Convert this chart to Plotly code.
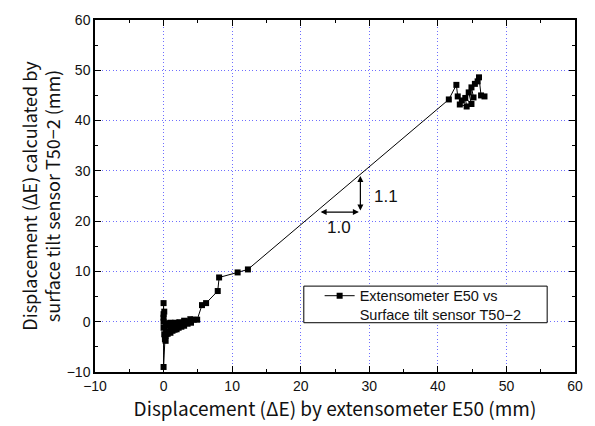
import plotly.graph_objects as go

# Displacement by extensometer E50 (mm)
ext_e50 = [0, 0, 0, 0.1, 0, 0, 0.2, 0, 0.3, 0.1, 0.2, 0.5, 0.3, 0.6, 0.4, 0.8,
           0.6, 1.0, 0.8, 1.2, 1.0, 1.4, 1.3, 1.7, 1.6, 2.0, 1.9, 2.3, 2.2,
           2.6, 2.6, 3.0, 3.0, 3.4, 3.5, 3.9, 4.0, 4.4, 4.9, 5.6, 6.2,
           7.9, 8.1, 10.8, 12.3,
           41.6, 42.7, 42.9, 43.5, 43.2, 44.2, 44.0, 44.9, 44.5, 45.2, 44.9,
           45.4, 45.8, 46.0, 46.3, 46.8]
# Displacement calculated by surface tilt sensor T50-2 (mm)
tilt_t50 = [0, -1.2, 1.5, -2.5, 3.7, -9.0, -3.5, 0.8, -3.8, 2.0, -3.0, -0.5,
            -2.8, -0.3, -2.5, -0.8, -2.4, -0.2, -2.0, -0.6, -2.2, -0.4, -1.8,
            -0.2, -1.6, -0.6, -1.5, -0.1, -1.2, -0.3, -1.0, 0.2, -0.8, 0.1,
            -0.4, 0.5, -0.2, 0.4, 0.4, 3.3, 3.7,
            6.1, 8.8, 9.8, 10.4,
            44.2, 47.1, 44.8, 44.0, 43.2, 42.8, 44.5, 43.3, 45.6, 44.6, 46.6,
            47.3, 47.8, 48.6, 45.0, 44.8]

# Slope triangle (run 1.0, rise 1.1)
tri_corner = (28.7, 21.8)
tri_left_x = 22.9
tri_top_y = 29.0
rise_label = ("1.1", 32.4, 25.0)
run_label = ("1.0", 25.6, 18.8)

series_name = "Extensometer E50 vs<br>Surface tilt sensor T50\u22122"

title_font = dict(family="Noto Sans CJK JP", size=18, color="#111")
tick_font = dict(family="Liberation Sans", size=14, color="#111")
grid_col = "#6e6eff"

fig = go.Figure()
fig.add_trace(go.Scatter(
    x=ext_e50, y=tilt_t50, mode="lines+markers", name=series_name,
    line=dict(color="black", width=1),
    marker=dict(symbol="square", size=6, color="black"),
))

axis_common = dict(
    range=[-10, 60], dtick=10, tick0=0,
    showline=True, linecolor="black", linewidth=1.5, mirror="ticks",
    ticks="inside", ticklen=6, tickwidth=1, tickcolor="black",
    minor=dict(ticks="inside", ticklen=3, dtick=5, tickcolor="black", showgrid=False),
    showgrid=True, gridcolor=grid_col, griddash="1px,2.5px", gridwidth=1,
    zeroline=False, tickfont=tick_font,
)

fig.update_xaxes(
    **axis_common,
    title=dict(text="Displacement (\u0394E) by extensometer E50 (mm)",
               font=dict(title_font, size=19), standoff=0),
)
fig.update_yaxes(
    **axis_common,
    title=dict(text="Displacement (\u0394E) calculated by<br>surface tilt sensor T50\u22122 (mm)",
               font=title_font, standoff=1),
)

cx, cy = tri_corner
arrow_style = dict(showarrow=True, text="", arrowhead=2, startarrowhead=2,
                   arrowside="end+start", arrowsize=1, arrowwidth=1.2,
                   arrowcolor="black", xref="x", yref="y", axref="x", ayref="y",
                   standoff=0, startstandoff=0)
fig.add_annotation(x=cx, y=tri_top_y, ax=cx, ay=cy, **arrow_style)
fig.add_annotation(x=tri_left_x, y=cy, ax=cx, ay=cy, **arrow_style)
for txt, lx, ly in (rise_label, run_label):
    fig.add_annotation(x=lx, y=ly, text=txt, showarrow=False, xref="x", yref="y",
                       font=dict(family="Liberation Sans", size=17, color="#111"))

# Legend frame
fig.add_shape(type="rect", xref="paper", yref="paper",
              x0=0.435, x1=0.942, y0=0.140, y1=0.244,
              line=dict(color="black", width=1), fillcolor="white", layer="above")

fig.update_layout(
    width=595, height=426,
    margin=dict(l=95, r=15, t=15, b=54),
    paper_bgcolor="white", plot_bgcolor="white",
    showlegend=True,
    legend=dict(x=0.468, y=0.262, xanchor="left", yanchor="top",
                bgcolor="rgba(0,0,0,0)", borderwidth=0, valign="top",
                font=dict(family="Liberation Sans", size=14.5, color="#111"),
                tracegroupgap=0, itemwidth=30),
)

fig.write_html("out.html")
